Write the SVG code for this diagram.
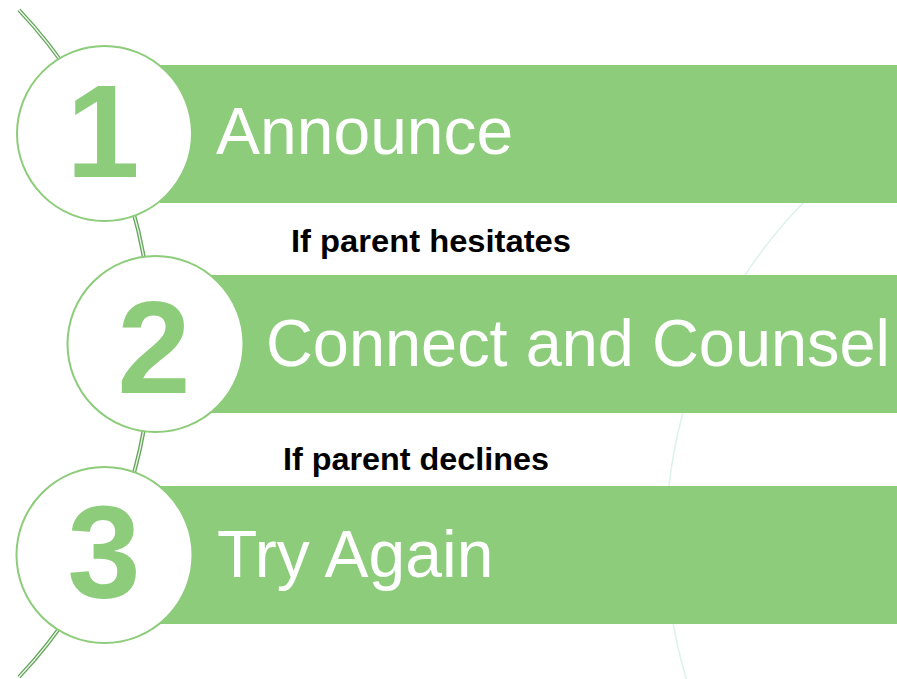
<svg xmlns="http://www.w3.org/2000/svg" width="897" height="679" viewBox="0 0 897 679">
  <style>
    .bar { fill: #8ccc7a; }
    .ring { fill: #ffffff; stroke: #8ccc7a; stroke-width: 2; }
    .num { font-family: "Liberation Sans", Arial, sans-serif; font-weight: bold; font-size: 132px; fill: #8ccc7a; text-anchor: middle; }
    .title { font-family: "Liberation Sans", Arial, sans-serif; font-size: 66px; fill: #ffffff; }
    .cond { font-family: "Liberation Sans", Arial, sans-serif; font-weight: bold; font-size: 32px; fill: #000000; }
  </style>
  <rect width="897" height="679" fill="#ffffff"/>

  <!-- faint background arc on the right -->
  <circle cx="1149" cy="540" r="483" fill="none" stroke="#dcf2ec" stroke-width="1.5"/>

  <!-- connectors: spine arc linking the step circles -->
  <g id="connectors">
    <path d="M 19 10 A 486 486 0 0 1 19 677" fill="none" stroke="#65a55c" stroke-width="4"/>
    <path d="M 19 10 A 486 486 0 0 1 19 677" fill="none" stroke="#eef7ea" stroke-width="1.3"/>
  </g>

  <g id="step1">
    <rect class="bar" x="160" y="65" width="737" height="138"/>
    <circle class="ring" cx="104.5" cy="133.5" r="87.5"/>
    <text class="num" x="103" y="177">1</text>
    <text class="title" x="216" y="154">Announce</text>
  </g>

  <g id="label-hesitates">
    <text class="cond" x="291" y="251.5" textLength="280" lengthAdjust="spacingAndGlyphs">If parent hesitates</text>
  </g>

  <g id="step2">
    <rect class="bar" x="210" y="275" width="687" height="138"/>
    <circle class="ring" cx="155.5" cy="344" r="88"/>
    <text class="num" x="154" y="393">2</text>
    <text class="title" x="266" y="366" textLength="624" lengthAdjust="spacingAndGlyphs">Connect and Counsel</text>
  </g>

  <g id="label-declines">
    <text class="cond" x="283" y="470" textLength="266" lengthAdjust="spacingAndGlyphs">If parent declines</text>
  </g>

  <g id="step3">
    <rect class="bar" x="160" y="486" width="737" height="138"/>
    <circle class="ring" cx="104.5" cy="555" r="88"/>
    <text class="num" x="104" y="598">3</text>
    <text class="title" x="217" y="577">Try Again</text>
  </g>
</svg>
